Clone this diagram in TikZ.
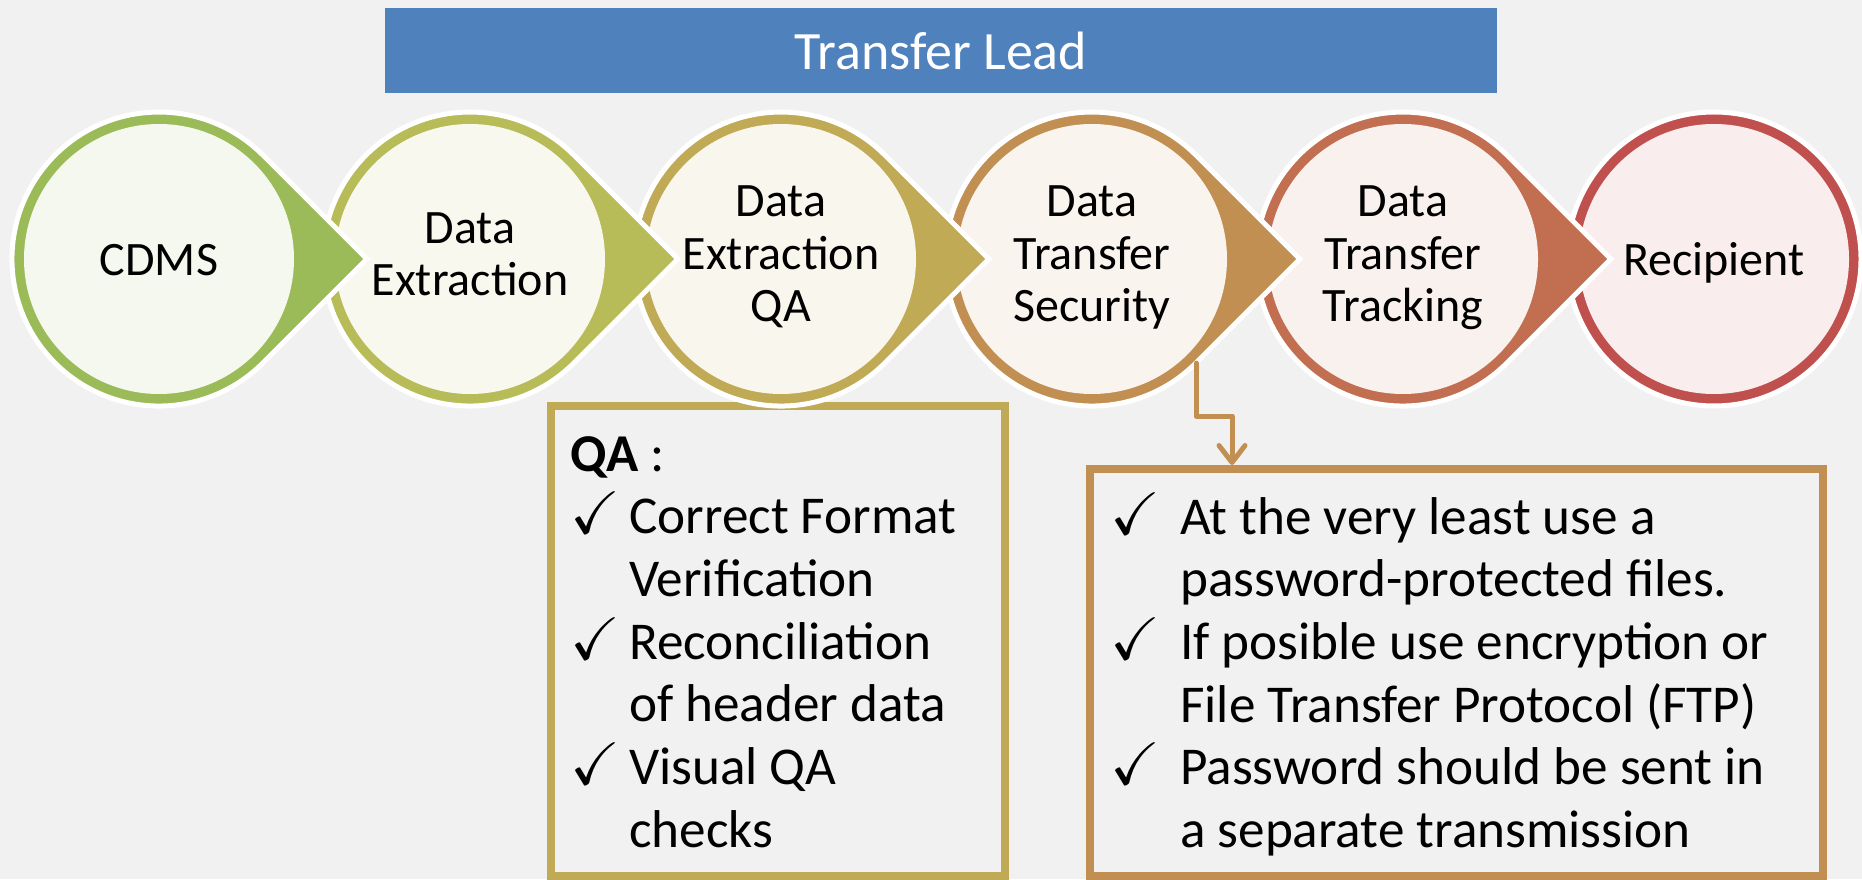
\documentclass[tikz,border=0pt]{standalone}
\usepackage{amssymb}
\usepackage{fontspec}
\setmainfont{Carlito}
\usetikzlibrary{arrows.meta, positioning}

\definecolor{bgc}{HTML}{F1F1F1}
\definecolor{leadblue}{HTML}{4F81BD}
\definecolor{cdmsc}{HTML}{9BBB59}
\definecolor{extrc}{HTML}{B7BC59}
\definecolor{qac}{HTML}{C0AA55}
\definecolor{secc}{HTML}{C18F52}
\definecolor{trackc}{HTML}{C26F51}
\definecolor{recipc}{HTML}{C0504D}

\newcommand{\stagefont}{\fontsize{48}{52.5}\selectfont}
\newcommand{\listfont}{\fontsize{53.2}{62.7}\selectfont}
\newcommand{\chkmark}{\smash{\fontsize{60}{60}\selectfont$\checkmark$}}
\newcommand{\stagetop}{\rule{0pt}{43pt}}
\newcommand{\stagebot}{\rule[-10pt]{0pt}{1pt}}

% coloured drop with its point to the right, drawn behind a stage
\newcommand{\teardrop}[2]{%
  \filldraw[fill=#2, draw=white, line width=5pt] #1 ++(207.9,0) -- ++(-104,103.9)
    arc[start angle=45, end angle=315, radius=147] -- cycle;}

\begin{document}
\begin{tikzpicture}[
    x=1pt, y=1pt,
    stage/.style={circle, minimum size=270pt, inner sep=0pt, align=center,
                  font=\stagefont, execute at begin node=\stagetop,
                  execute at end node=\stagebot},
    leadbar/.style={rectangle, fill=leadblue, text=white, inner sep=0pt,
                    minimum width=1112pt, minimum height=85pt,
                    font=\fontsize{54}{60}\selectfont},
    listbox/.style={rectangle, line width=8pt, outer sep=0pt, inner sep=0pt},
    listtxt/.style={anchor=north west, inner sep=0pt, align=left,
                    font=\listfont},
    conn/.style={-{Straight Barb[length=17pt, width=26pt, round]}, line width=5pt,
                 secc, line join=round, line cap=round, shorten >=4pt},
  ]
    \path[fill=bgc, use as bounding box] (0,0) rectangle (1862,879);

    \node[leadbar] (lead) at (941,828.5) {Transfer Lead};

    % note boxes
    \node[listbox, draw=qac, minimum width=454pt, minimum height=470pt]
        (qabox) at (778,238) {};
    \node[listbox, draw=secc, minimum width=733pt, minimum height=407pt]
        (secbox) at (1456.5,206.5) {};

    \node[listtxt] (qalist) at ([xshift=19pt, yshift=-21pt]qabox.north west)
        {\strut\textbf{QA} :\\
         \makebox[59pt][l]{\chkmark}Correct Format\\
         \hspace*{59pt}Verification\\
         \makebox[59pt][l]{\chkmark}Reconciliation\\
         \hspace*{59pt}of header data\\
         \makebox[59pt][l]{\chkmark}Visual QA\\
         \hspace*{59pt}checks};
    \node[listtxt] (seclist) at ([xshift=20pt, yshift=-21pt]secbox.north west)
        {\strut\makebox[70pt][l]{\chkmark}At the very least use a\\
         \hspace*{70pt}password-protected files.\\
         \makebox[70pt][l]{\chkmark}If posible use encryption or\\
         \hspace*{70pt}File Transfer Protocol (FTP)\\
         \makebox[70pt][l]{\chkmark}Password should be sent in\\
         \hspace*{70pt}a separate transmission};

    % stages, right to left so each point lies over the next circle
    \filldraw[fill=recipc, draw=white, line width=5pt] (1714,620) circle[radius=147];
    \node[stage, fill=recipc!10] (recip) at (1714,620) {Recipient};

    \teardrop{(1403,620)}{trackc}
    \node[stage, fill=trackc!10] (track) at (1403,620) {Data\\Transfer\\Tracking};

    \teardrop{(1092,620)}{secc}
    \node[stage, fill=secc!10] (sec) at (1092,620) {Data\\Transfer\\Security};

    \teardrop{(781,620)}{qac}
    \node[stage, fill=qac!10] (extqa) at (781,620) {Data\\Extraction\\QA};

    \teardrop{(470,620)}{extrc}
    \node[stage, fill=extrc!10] (extr) at (470,620) {Data\\Extraction};

    \teardrop{(159,620)}{cdmsc}
    \node[stage, fill=cdmsc!10] (cdms) at (159,620) {CDMS};

    % security -> its note
    \draw[conn] ([shift={(-45:12)}]sec.-45) -- ++(0,-53)
        -| ([xshift=142pt]secbox.north west);
\end{tikzpicture}
\end{document}
